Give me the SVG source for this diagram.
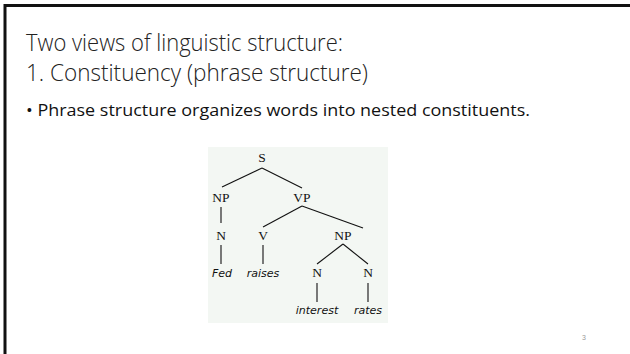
<svg xmlns="http://www.w3.org/2000/svg" width="630" height="354" viewBox="0 0 630 354">
<style>
.title{font-family:"Open Sans","Lato","Liberation Sans",sans-serif;font-weight:300;font-size:23px;fill:#222}
.body{font-family:"Open Sans","Lato","Liberation Sans",sans-serif;font-size:15.5px;fill:#111}
.cat{font-family:"Liberation Serif","DejaVu Serif",serif;font-size:13.5px;fill:#111;text-anchor:middle}
.word{font-family:"DejaVu Sans","Liberation Sans",sans-serif;font-style:italic;font-size:11px;fill:#111;text-anchor:middle}
.edge{stroke:#111;stroke-width:1.1;fill:none}
.pg{font-family:"Liberation Sans",sans-serif;font-size:7px;fill:#999;text-anchor:middle}
</style>
<rect width="630" height="354" fill="#fff"/>
<path d="M5,354 V5.5 H630" fill="none" stroke="#111" stroke-width="3"/>
<text class="title" x="26" y="51" textLength="317" lengthAdjust="spacingAndGlyphs">Two views of linguistic structure:</text>
<text class="title" x="26" y="81" textLength="342" lengthAdjust="spacingAndGlyphs">1. Constituency (phrase structure)</text>
<text class="body" x="26" y="116" textLength="504" lengthAdjust="spacingAndGlyphs">• Phrase structure organizes words into nested constituents.</text>
<rect x="208" y="147" width="180" height="176" fill="#f3f7f3"/>
<g id="connectors">
<line class="edge" x1="262" y1="168" x2="222" y2="187"/>
<line class="edge" x1="262" y1="168" x2="302" y2="188"/>
<line class="edge" x1="221" y1="207" x2="221" y2="223"/>
<line class="edge" x1="221" y1="245" x2="221" y2="264"/>
<line class="edge" x1="302" y1="206" x2="263" y2="227"/>
<line class="edge" x1="302" y1="206" x2="363" y2="228"/>
<line class="edge" x1="263" y1="245" x2="263" y2="264"/>
<line class="edge" x1="343" y1="244" x2="317" y2="264"/>
<line class="edge" x1="343" y1="244" x2="368" y2="264"/>
<line class="edge" x1="317" y1="283" x2="317" y2="302"/>
<line class="edge" x1="368" y1="283" x2="368" y2="302"/>
</g>
<g id="S"><text class="cat" x="262" y="162">S</text></g>
<g id="NP1"><text class="cat" x="221" y="202">NP</text></g>
<g id="VP"><text class="cat" x="302" y="202">VP</text></g>
<g id="N1"><text class="cat" x="221" y="240">N</text></g>
<g id="V"><text class="cat" x="263" y="240">V</text></g>
<g id="NP2"><text class="cat" x="343" y="240">NP</text></g>
<g id="Fed"><text class="word" x="222" y="277">Fed</text></g>
<g id="raises"><text class="word" x="263" y="277">raises</text></g>
<g id="N2"><text class="cat" x="317" y="277">N</text></g>
<g id="N3"><text class="cat" x="368" y="277">N</text></g>
<g id="interest"><text class="word" x="317" y="314">interest</text></g>
<g id="rates"><text class="word" x="368" y="314">rates</text></g>
<text class="pg" x="584" y="340">3</text>
</svg>
